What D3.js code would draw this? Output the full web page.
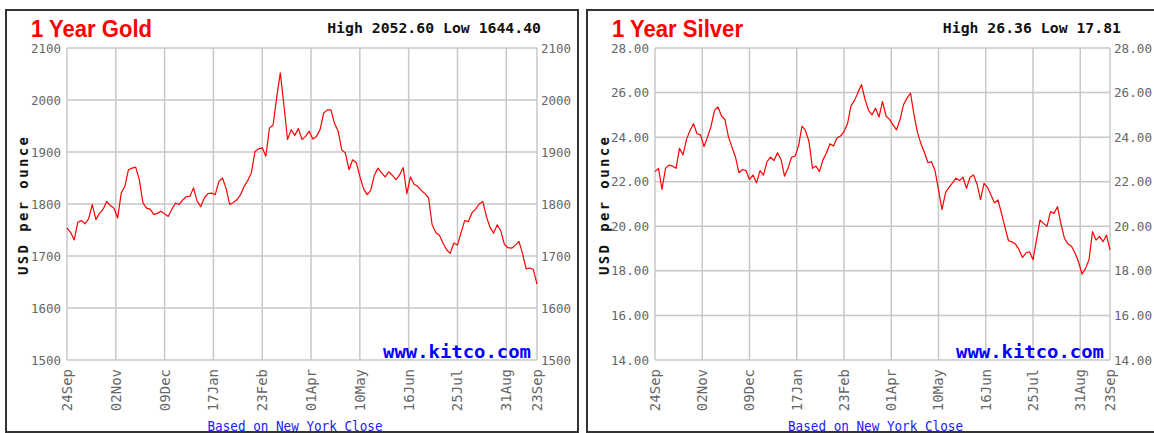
<!DOCTYPE html>
<html>
<head>
<meta charset="utf-8">
<script src="https://cdnjs.cloudflare.com/ajax/libs/d3/7.8.5/d3.min.js"></script>
<style>
    html, body { margin: 0; padding: 0; background: #fff; }
    svg { display: block; }
</style>
</head>
<body>
<div id="charts"></div>
<script>
'use strict';

// trading day index of each date label (every 27 weekdays, last = 23Sep)
var tickIndex = [0, 27, 54, 81, 108, 135, 162, 189, 216, 243, 260];
var dateLabels = ['24Sep', '02Nov', '09Dec', '17Jan', '23Feb', '01Apr', '10May', '16Jun', '25Jul', '31Aug', '23Sep'];

// closes, one value every 2 trading days (index 0..260)
var goldValues = [
    1754, 1745, 1731, 1765, 1768, 1762, 1772, 1799, 1770, 1782,
    1790, 1805, 1797, 1792, 1773, 1821, 1834, 1866, 1869, 1871,
    1847, 1802, 1792, 1790, 1780, 1782, 1786, 1781, 1776, 1790,
    1802, 1799, 1808, 1814, 1815, 1831, 1805, 1795, 1812, 1820,
    1821, 1818, 1843, 1850, 1830, 1799, 1803, 1808, 1818, 1834,
    1845, 1860, 1901, 1906, 1908, 1892, 1946, 1952, 2005, 2052,
    1990, 1924, 1943, 1932, 1945, 1924, 1930, 1940, 1925, 1930,
    1943, 1975, 1981, 1981, 1955, 1940, 1904, 1898, 1866, 1885,
    1880, 1853, 1830, 1818, 1826, 1855, 1869, 1860, 1852, 1862,
    1855, 1847, 1856, 1870, 1820, 1852, 1838, 1834, 1826, 1820,
    1812, 1760, 1745, 1740, 1725, 1712, 1705, 1725, 1721, 1745,
    1768, 1766, 1783, 1790, 1800, 1805, 1776, 1755, 1744, 1760,
    1748, 1722, 1716, 1715, 1721, 1728, 1705, 1675, 1677, 1674,
    1646
];
var silverValues = [
    22.45, 22.60, 21.65, 22.60, 22.75, 22.70, 22.60, 23.50, 23.20, 23.90,
    24.30, 24.60, 24.15, 24.10, 23.58, 24.00, 24.48, 25.20, 25.35, 24.95,
    24.78, 24.00, 23.55, 23.10, 22.40, 22.55, 22.50, 22.10, 22.30, 21.95,
    22.50, 22.30, 22.90, 23.10, 22.95, 23.30, 23.00, 22.25, 22.60, 23.10,
    23.15, 23.60, 24.50, 24.30, 23.80, 22.60, 22.70, 22.45, 22.98, 23.30,
    23.70, 23.60, 23.96, 24.05, 24.25, 24.60, 25.40, 25.65, 26.00, 26.36,
    25.70, 25.20, 25.00, 25.30, 24.90, 25.60, 24.95, 24.80, 24.55, 24.33,
    24.78, 25.45, 25.75, 25.98, 25.00, 24.20, 23.70, 23.30, 22.85, 22.90,
    22.50, 21.63, 20.75, 21.50, 21.75, 21.95, 22.16, 22.05, 22.20, 21.70,
    22.20, 22.30, 21.90, 21.20, 21.93, 21.75, 21.40, 21.05, 21.18, 20.58,
    19.95, 19.35, 19.30, 19.20, 18.95, 18.60, 18.80, 18.86, 18.50, 19.38,
    20.28, 20.13, 20.00, 20.66, 20.58, 20.88, 20.10, 19.45, 19.20, 19.10,
    18.80, 18.41, 17.85, 18.10, 18.50, 19.76, 19.38, 19.55, 19.31, 19.60,
    18.94
];

var goldTicks = [1500, 1600, 1700, 1800, 1900, 2000, 2100];
var silverTicks = [14, 16, 18, 20, 22, 24, 26, 28];

var width = 1154, height = 433;

var svg = d3.select('#charts')
    .append('svg')
    .attr('width', width)
    .attr('height', height);

var drawPanel = function (cfg) {
    var g = svg.append('g');

    // panel frame
    g.append('rect')
        .attr('x', cfg.box[0])
        .attr('y', 10)
        .attr('width', cfg.box[1] - cfg.box[0])
        .attr('height', 422)
        .attr('fill', '#fff')
        .attr('stroke', '#333')
        .attr('stroke-width', 2);

    var x = d3.scaleLinear()
        .domain([0, 260])
        .range([cfg.plot[0], cfg.plot[1]]);
    var y = d3.scaleLinear()
        .domain(cfg.domain)
        .range([360, 48]);

    // grid
    g.append('g')
        .selectAll('line')
        .data(cfg.ticks)
        .enter()
        .append('line')
        .attr('x1', x(0))
        .attr('x2', x(260))
        .attr('y1', function (d) { return y(d); })
        .attr('y2', function (d) { return y(d); })
        .attr('stroke', '#c8c8c8')
        .attr('stroke-width', 1.5);

    g.append('g')
        .selectAll('line')
        .data(tickIndex)
        .enter()
        .append('line')
        .attr('x1', function (d) { return x(d); })
        .attr('x2', function (d) { return x(d); })
        .attr('y1', y(cfg.domain[0]))
        .attr('y2', y(cfg.domain[1]))
        .attr('stroke', '#c8c8c8')
        .attr('stroke-width', 1.5);

    // left / right value labels
    var fmt = cfg.fmt;
    g.append('g')
        .selectAll('text')
        .data(cfg.ticks)
        .enter()
        .append('text')
        .attr('x', x(0) - 6)
        .attr('y', function (d) { return y(d); })
        .attr('dy', '0.35em')
        .attr('text-anchor', 'end')
        .attr('font-family', 'DejaVu Sans Mono, monospace')
        .attr('font-size', 13)
        .attr('fill', '#666')
        .attr('textLength', cfg.labelLen)
        .attr('lengthAdjust', 'spacingAndGlyphs')
        .text(fmt);

    g.append('g')
        .selectAll('text')
        .data(cfg.ticks)
        .enter()
        .append('text')
        .attr('x', x(260) + 4)
        .attr('y', function (d) { return y(d); })
        .attr('dy', '0.35em')
        .attr('font-family', 'DejaVu Sans Mono, monospace')
        .attr('font-size', 13)
        .attr('fill', '#666')
        .attr('textLength', cfg.labelLen)
        .attr('lengthAdjust', 'spacingAndGlyphs')
        .text(fmt);

    // date labels, rotated
    g.append('g')
        .selectAll('text')
        .data(tickIndex)
        .enter()
        .append('text')
        .attr('transform', function (d) {
            return 'translate(' + x(d) + ',369) rotate(-90)';
        })
        .attr('dy', '0.35em')
        .attr('text-anchor', 'end')
        .attr('font-family', 'DejaVu Sans Mono, monospace')
        .attr('font-size', 14)
        .attr('fill', '#666')
        .text(function (d, i) { return dateLabels[i]; });

    // price line
    var line = d3.line()
        .x(function (d, i) { return x(i * 2); })
        .y(function (d) { return y(d); });

    g.append('path')
        .datum(cfg.values)
        .attr('d', line)
        .attr('fill', 'none')
        .attr('stroke', '#ff0000')
        .attr('stroke-width', 1.2)
        .attr('stroke-linejoin', 'round');

    // titles and notes
    g.append('text')
        .attr('x', cfg.box[0] + 25)
        .attr('y', 37)
        .attr('font-family', 'Liberation Sans, Arial, sans-serif')
        .attr('font-weight', 'bold')
        .attr('font-size', 23)
        .attr('fill', '#ff0000')
        .attr('textLength', cfg.titleLen)
        .attr('lengthAdjust', 'spacingAndGlyphs')
        .text(cfg.title);

    g.append('text')
        .attr('x', cfg.hiEnd)
        .attr('y', 33)
        .attr('text-anchor', 'end')
        .attr('font-family', 'DejaVu Sans Mono, monospace')
        .attr('font-weight', 'bold')
        .attr('font-size', 14.8)
        .attr('fill', '#111')
        .text(cfg.hiLo);

    g.append('text')
        .attr('transform', 'translate(' + (cfg.box[0] + 17) + ',206) rotate(-90)')
        .attr('dy', '0.35em')
        .attr('text-anchor', 'middle')
        .attr('font-family', 'DejaVu Sans Mono, monospace')
        .attr('font-weight', 'bold')
        .attr('font-size', 14)
        .attr('fill', '#111')
        .attr('textLength', 138)
        .attr('lengthAdjust', 'spacing')
        .text('USD per ounce');

    g.append('text')
        .attr('x', x(260) - 6)
        .attr('y', 358)
        .attr('text-anchor', 'end')
        .attr('font-family', 'DejaVu Sans Mono, monospace')
        .attr('font-weight', 'bold')
        .attr('font-size', 17)
        .attr('fill', '#0000ff')
        .attr('textLength', 148)
        .attr('lengthAdjust', 'spacingAndGlyphs')
        .text('www.kitco.com');

    g.append('text')
        .attr('x', (x(0) + x(260)) / 2 - 7)
        .attr('y', 431)
        .attr('text-anchor', 'middle')
        .attr('font-family', 'DejaVu Sans Mono, monospace')
        .attr('font-size', 14)
        .attr('fill', '#2020ff')
        .attr('textLength', 175)
        .attr('lengthAdjust', 'spacingAndGlyphs')
        .text('Based on New York Close');
};

drawPanel({
    box: [6, 578],
    plot: [67, 537],
    domain: [1500, 2100],
    ticks: goldTicks,
    values: goldValues,
    fmt: function (d) { return d3.format('d')(d); },
    labelLen: 30,
    title: '1 Year Gold',
    titleLen: 121,
    hiLo: 'High 2052.60 Low 1644.40',
    hiEnd: 541
});

drawPanel({
    box: [587, 1162],
    plot: [655, 1110],
    domain: [14, 28],
    ticks: silverTicks,
    values: silverValues,
    fmt: function (d) { return d3.format('.2f')(d); },
    labelLen: 38,
    title: '1 Year Silver',
    titleLen: 131,
    hiLo: 'High 26.36 Low 17.81',
    hiEnd: 1121
});
</script>
</body>
</html>
